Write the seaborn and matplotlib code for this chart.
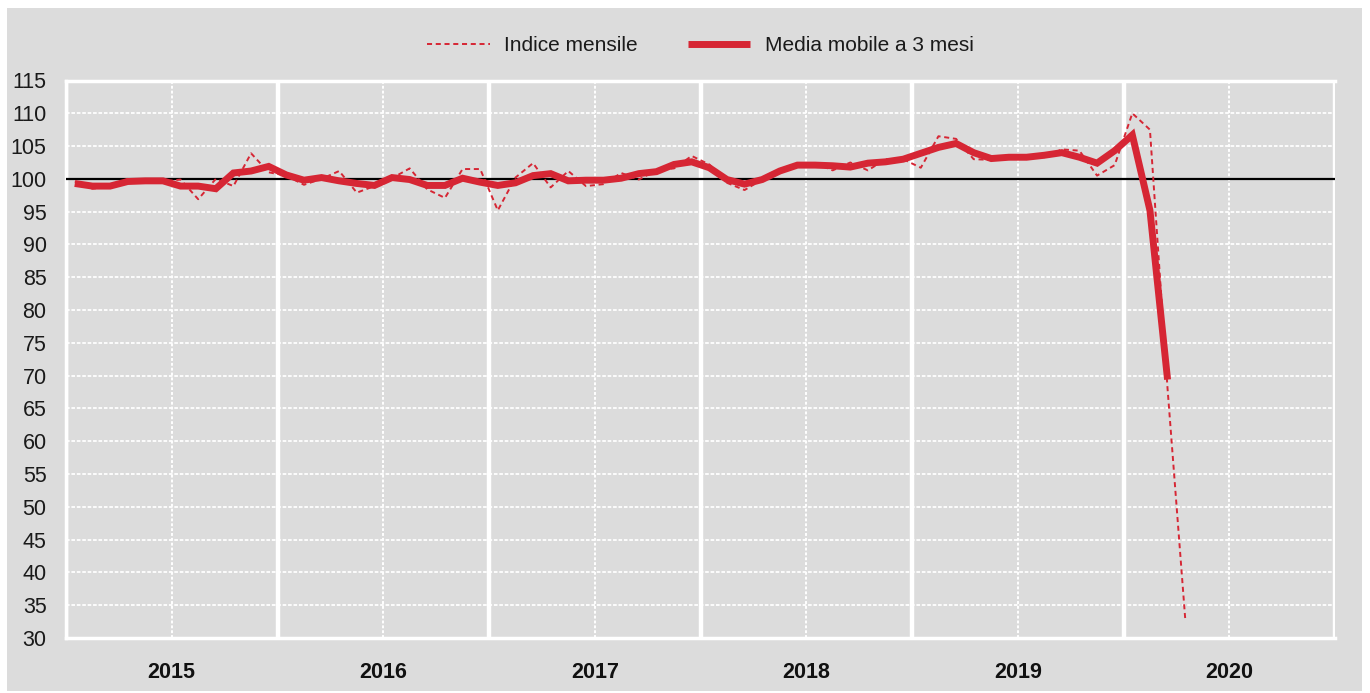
import numpy as np
import pandas as pd
import matplotlib
matplotlib.use("Agg")
import matplotlib.pyplot as plt
from matplotlib.patches import Rectangle
import seaborn as sns

# dati mensili gen 2015 - apr 2020
anni = ["2015", "2016", "2017", "2018", "2019", "2020"]

indice_mensile = [
    99.6, 98.5, 98.8, 100.0, 99.6, 99.6, 99.9, 96.9, 100.0, 98.9, 103.9, 101.0,
    100.5, 99.1, 100.0, 101.2, 97.9, 98.9, 100.1, 101.6, 98.4, 97.1, 101.5, 101.5,
    95.2, 100.2, 102.4, 98.7, 101.2, 98.9, 99.2, 100.9, 99.9, 101.3, 101.6, 103.5,
    102.2, 99.4, 98.3, 99.9, 101.5, 102.2, 102.4, 101.3, 102.5, 101.3, 103.0, 103.0,
    101.7, 106.5, 106.1, 103.0, 102.9, 103.4, 103.6, 103.3, 104.5, 104.3, 100.5, 102.1,
    110.0, 107.5, 68.0, 33.0,
]

media_mobile = [
    99.3, 98.9, 98.9, 99.6, 99.7, 99.7, 98.9, 98.9, 98.5, 100.9, 101.2, 101.9,
    100.6, 99.8, 100.2, 99.7, 99.3, 99.0, 100.2, 99.9, 99.0, 99.0, 100.1, 99.5,
    99.0, 99.4, 100.5, 100.8, 99.7, 99.8, 99.8, 100.1, 100.8, 101.1, 102.2, 102.6,
    101.7, 99.9, 99.2, 99.9, 101.2, 102.1, 102.1, 102.0, 101.8, 102.4, 102.6, 103.0,
    103.9, 104.8, 105.4, 104.0, 103.1, 103.3, 103.3, 103.6, 104.0, 103.3, 102.4, 104.3,
    106.7, 95.2, 69.4,
]

ROSSO = "#d62634"
GRIGIO = "#dcdcdc"
FONT = ["Liberation Sans Narrow", "Liberation Sans", "DejaVu Sans"]

plt.rcParams["font.family"] = FONT

df_ind = pd.DataFrame({"mese": np.arange(len(indice_mensile)), "valore": indice_mensile})
df_mm = pd.DataFrame({"mese": np.arange(len(media_mobile)), "valore": media_mobile})

fig = plt.figure(figsize=(13.7, 6.93), dpi=100)
fig.patch.set_facecolor("white")
sfondo = Rectangle((7 / 1370, 2 / 693), 1355 / 1370, 683 / 693,
                   transform=fig.transFigure, facecolor=GRIGIO,
                   edgecolor="none", zorder=-10)
fig.add_artist(sfondo)

ax = fig.add_axes([66 / 1370, 1 - 638 / 693, (1335 - 66) / 1370, (638 - 80.5) / 693])
ax.set_facecolor(GRIGIO)

sns.lineplot(data=df_ind, x="mese", y="valore", ax=ax, color=ROSSO, lw=1.4,
             label="Indice mensile", zorder=4)
ax.lines[-1].set_dashes((2.6, 1.9))
sns.lineplot(data=df_mm, x="mese", y="valore", ax=ax, color=ROSSO, lw=5.0,
             label="Media mobile a 3 mesi", zorder=5,
             solid_capstyle="butt", solid_joinstyle="miter")

ax.axhline(100, color="black", lw=1.6, zorder=3)

n_mesi = 12 * len(anni)
ax.set_xlim(-0.5, n_mesi - 0.5)
ax.set_ylim(30, 115)
ax.set_yticks(np.arange(30, 116, 5))
ax.set_xticks(np.arange(5.5, n_mesi, 12))
ax.set_xticklabels(anni, fontweight="bold")
ax.set_xticks(np.arange(-0.5, n_mesi, 12), minor=True)

ax.grid(axis="y", which="major", color="white", ls=(0, (2, 1)), lw=1.3, zorder=1)
ax.grid(axis="x", which="major", color="white", ls=(0, (1.5, 1)), lw=1.4, zorder=1)
ax.grid(axis="x", which="minor", color="white", ls="-", lw=3.2, zorder=1)
ax.set_axisbelow(True)

for lato in ["left", "bottom", "top"]:
    ax.spines[lato].set_color("white")
    ax.spines[lato].set_linewidth(2.5)
ax.spines["right"].set_visible(False)

ax.tick_params(axis="both", which="both", length=0)
ax.tick_params(axis="y", labelsize=15.5, pad=14, colors="#1a1a1a")
ax.tick_params(axis="x", labelsize=15.5, pad=17, colors="#111111")
ax.set_xlabel("")
ax.set_ylabel("")

leg = ax.legend(loc="center", bbox_to_anchor=(0.5, 1 + 35 / 557.5), ncol=2,
                frameon=False, fontsize=15, handlelength=3.0, columnspacing=2.4,
                handletextpad=0.7)
for t in leg.get_texts():
    t.set_color("#1a1a1a")

fig.savefig("out.png", dpi=100, facecolor=fig.get_facecolor())
